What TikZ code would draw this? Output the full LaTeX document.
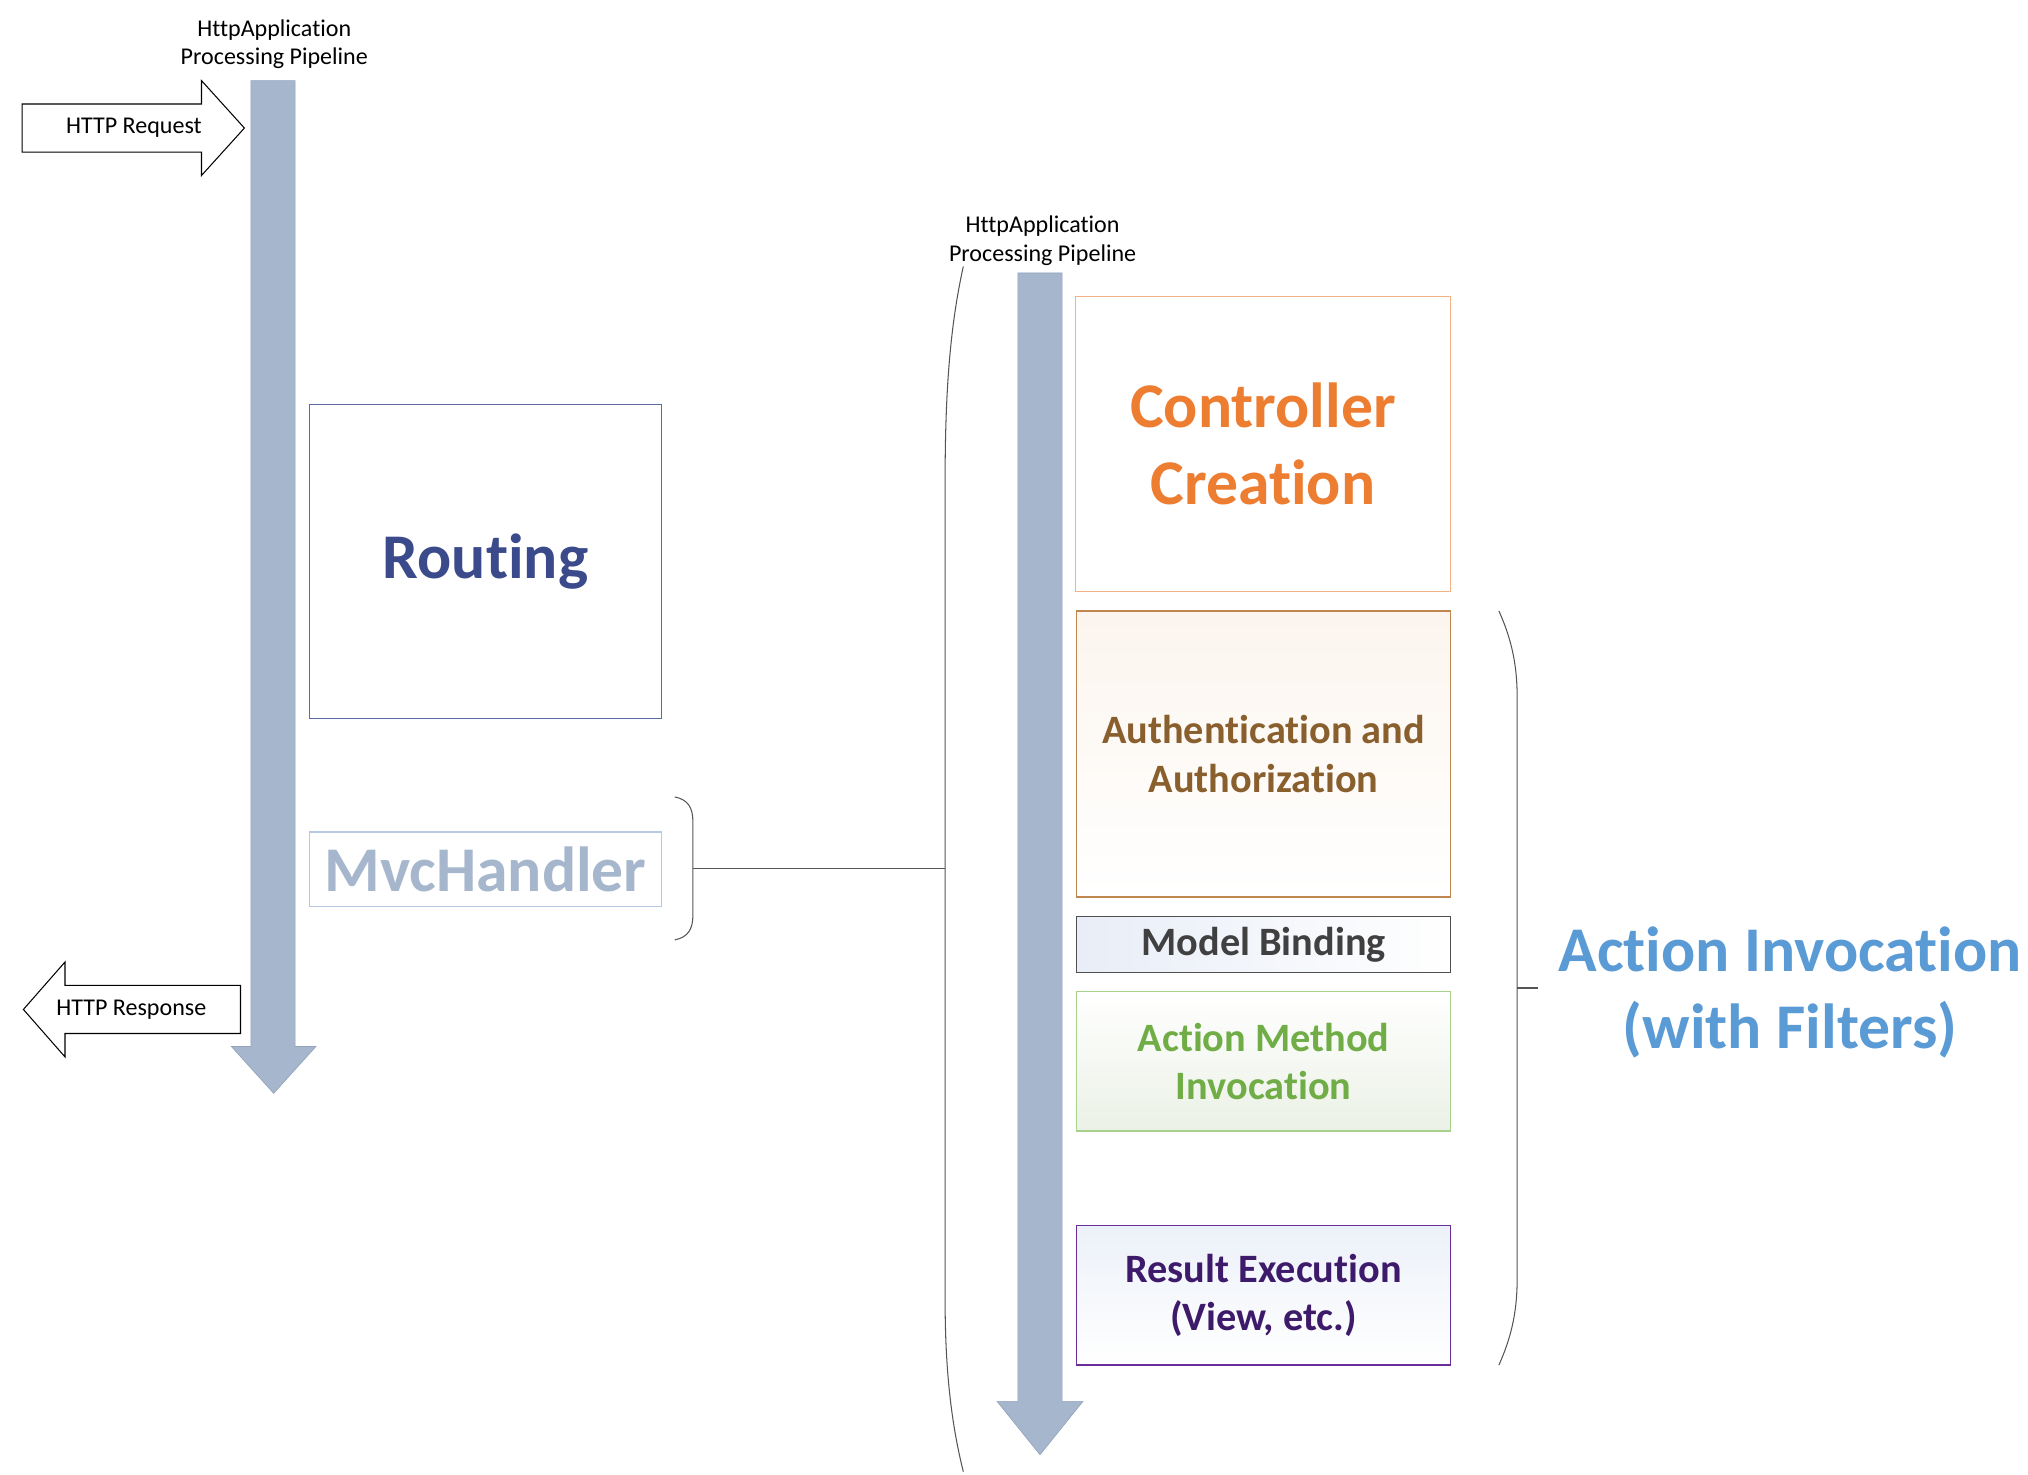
\documentclass[tikz,border=0pt]{standalone}
\usepackage{fontspec}
\setmainfont{Carlito}[Ligatures=NoCommon]
\definecolor{barfill}{HTML}{A6B6CD}
\definecolor{baredge}{HTML}{93A3BD}
\definecolor{braceg}{HTML}{555555}
\definecolor{routeC}{HTML}{3B4A8A}
\definecolor{routeB}{HTML}{5D69A3}
\definecolor{mvcB}{HTML}{B8C8E2}
\definecolor{ctrlC}{HTML}{ED7D31}
\definecolor{ctrlB}{HTML}{F4B183}
\definecolor{authC}{HTML}{8A5F2E}
\definecolor{authB}{HTML}{C0864F}
\definecolor{modelC}{HTML}{404040}
\definecolor{modelB}{HTML}{505050}
\definecolor{actC}{HTML}{70AD47}
\definecolor{actB}{HTML}{A9D18E}
\definecolor{resC}{HTML}{3E1A6A}
\definecolor{resB}{HTML}{6A2E9A}
\definecolor{aiC}{HTML}{5B9BD5}
\definecolor{tintA}{HTML}{FCF5EE}
\definecolor{tintB}{HTML}{F7F9FC}
\definecolor{tintM}{HTML}{E8EDF7}
\definecolor{tintG}{HTML}{EBF1E6}
\definecolor{tintR}{HTML}{ECF1F9}
\begin{document}
\begin{tikzpicture}[x=1pt,y=-1pt,
  small/.style={font=\fontsize{18.5}{22}\selectfont, align=center, inner sep=0pt},
  big/.style={font=\fontsize{49}{59}\selectfont\bfseries, align=center},
  mid/.style={font=\fontsize{31}{37}\selectfont\bfseries, align=center},
  stagebox/.style={rectangle, line width=0.9pt, inner sep=0pt, anchor=center},
  pipe/.style={fill=barfill, draw=baredge, line width=0.5pt},
  bracel/.style={draw=braceg, line width=0.8pt},
  httparrow/.style={fill=white, draw=black, line width=0.8pt, line join=miter}
]
\useasboundingbox (0,0) rectangle (1560,1134);
\fill[white] (0,0) rectangle (1560,1134);

% left pipeline
\node[small] (title1) at (211,34) {HttpApplication\\Processing Pipeline};
\draw[pipe] (193,62) -- (227,62) -- (227,805) -- (243,805) -- (210.5,841) -- (178,805) -- (193,805) -- cycle;
\draw[httparrow] (17,80) -- (155,80) -- (155,62) -- (188,98.5) -- (155,135) -- (155,117) -- (17,117) -- cycle;
\node[small] (req) at (103,98.5) {HTTP Request};
\draw[httparrow] (185,758) -- (50,758) -- (50,740) -- (18,776.5) -- (50,813) -- (50,795) -- (185,795) -- cycle;
\node[small] (resp) at (101,776.5) {HTTP Response};

\node[stagebox, draw=routeB, minimum width=271pt, minimum height=242pt] (routing) at (373.5,432) {};
\node[big, text=routeC] at (routing.center) {Routing};
\node[stagebox, draw=mvcB, minimum width=271pt, minimum height=57pt] (mvc) at (373.5,668.5) {};
\node[big, text=barfill] at (mvc.center) {MvcHandler};

% brace of MvcHandler
\coordinate (mvcbr) at (533,668);
\coordinate (pipeL) at (727,668);
\draw[bracel] (519,613) .. controls (529,615) and (533,621) .. (533,632) -- (533,704) .. controls (533,715) and (529,721) .. (519,723);
\draw[bracel] (mvcbr) -- (pipeL);

% right pipeline
\node[small] (title2) at (802,185) {HttpApplication\\Processing Pipeline};
\draw[bracel] (741,205) .. controls (731,250) and (727,300) .. (727,370) -- (727,1000) .. controls (727,1060) and (733,1100) .. (741,1132);
\draw[pipe] (783,210) -- (817,210) -- (817,1078) -- (833,1078) -- (800,1119) -- (767,1078) -- (783,1078) -- cycle;

\node[stagebox, draw=ctrlB, fill=white, minimum width=289pt, minimum height=227pt] (ctrl) at (971.5,341.5) {};
\node[big, text=ctrlC] at (ctrl.center) {Controller\\Creation};

\node[stagebox, draw=authB, shading=axis, shading angle=45, top color=tintA, middle color=tintB, bottom color=white, minimum width=288pt, minimum height=220pt] (auth) at (972,580) {};
\node[mid, text=authC] at (auth.center) {Authentication and\\Authorization};

\node[stagebox, draw=modelB, left color=tintM, right color=white, minimum width=288pt, minimum height=43pt] (model) at (972,726.5) {};
\node[mid, text=modelC] at (model.center) {Model Binding};

\node[stagebox, draw=actB, shading=axis, shading angle=-45, bottom color=tintG, top color=white, minimum width=288pt, minimum height=107pt] (act) at (972,816.5) {};
\node[mid, text=actC] at (act.center) {Action Method\\Invocation};

\node[stagebox, draw=resB, shading=axis, shading angle=45, top color=tintR, bottom color=white, minimum width=288pt, minimum height=107pt] (res) at (972,996.5) {};
\node[mid, text=resC] at (res.center) {Result Execution\\(View, etc.)};

% action invocation brace
\coordinate (aibr) at (1167,760);
\coordinate (aitick) at (1183,760);
\draw[bracel] (1153,470) .. controls (1162,490) and (1167,510) .. (1167,535) -- (1167,985) .. controls (1167,1010) and (1162,1030) .. (1153,1050);
\draw[bracel] (aibr) -- (aitick);
\node[big, text=aiC] (ai) at (1377,763.5) {Action Invocation\\(with Filters)};
\end{tikzpicture}
\end{document}
